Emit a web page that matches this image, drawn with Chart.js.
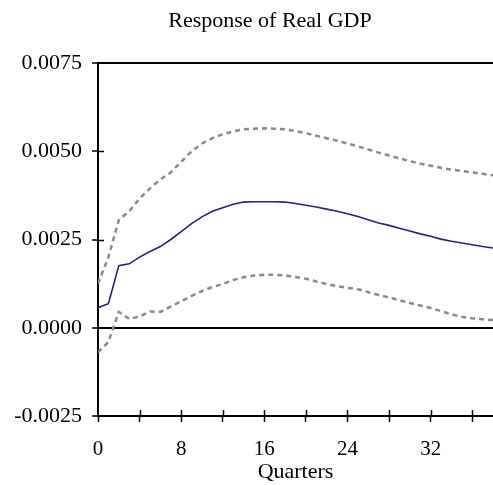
<!DOCTYPE html>
<html>
<head>
<meta charset="utf-8">
<script src="https://cdn.jsdelivr.net/npm/chart.js@4/dist/chart.umd.min.js"></script>
<style>
  html, body { margin: 0; padding: 0; background: #fff; }
  #wrap { width: 493px; height: 485px; position: relative; }
</style>
</head>
<body>
<div id="wrap"><canvas id="c" width="493" height="485"></canvas></div>
<script>
// Impulse response of real GDP with its error bands, by quarter
const quarters = [0,1,2,3,4,5,6,7,8,9,10,11,12,13,14,15,16,17,18,19,20,21,22,23,24,25,26,27,28,29,30,31,32,33,34,35,36,37,38];

const response = [0.00057,0.00068,0.00176,0.00181,0.00200,0.00216,0.00230,0.00250,0.00272,0.00295,
  0.00314,0.00330,0.00340,0.00350,0.00356,0.00357,0.00357,0.00357,0.00356,0.00352,
  0.00347,0.00342,0.00336,0.00330,0.00323,0.00315,0.00306,0.00297,0.00290,0.00282,
  0.00274,0.00266,0.00259,0.00251,0.00245,0.00240,0.00235,0.00230,0.00226];

const upperBand = [0.00125,0.00200,0.00305,0.00330,0.00366,0.00395,0.00420,0.00440,0.00470,0.00500,
  0.00522,0.00537,0.00548,0.00556,0.00562,0.00564,0.00565,0.00564,0.00562,0.00557,
  0.00551,0.00544,0.00537,0.00530,0.00522,0.00514,0.00505,0.00496,0.00488,0.00480,
  0.00472,0.00465,0.00459,0.00453,0.00448,0.00444,0.00440,0.00436,0.00432];

const lowerBand = [-0.00070,-0.00040,0.00045,0.00025,0.00032,0.00046,0.00045,0.00060,0.00075,0.00090,
  0.00104,0.00115,0.00124,0.00135,0.00143,0.00148,0.00150,0.00150,0.00148,0.00144,
  0.00139,0.00131,0.00124,0.00118,0.00113,0.00109,0.00101,0.00093,0.00086,0.00078,
  0.00070,0.00063,0.00056,0.00047,0.00038,0.00031,0.00027,0.00024,0.00022];

const yTicks = [-0.0025, 0.0000, 0.0025, 0.0050, 0.0075];
const xLabelTicks = [0, 8, 16, 24, 32];
const chartTitle = 'Response of Real GDP';
const xTitle = 'Quarters';

const pts = arr => arr.map((v, i) => ({ x: quarters[i], y: v }));

const serif = '"Liberation Serif", "Times New Roman", serif';

// Tick marks that cross the axes, plus the centred title
const axisDecor = {
  id: 'axisDecor',
  afterDraw(chart) {
    const { ctx, chartArea, scales } = chart;
    const xs = scales.x, ys = scales.y;
    ctx.save();
    ctx.strokeStyle = '#000';
    ctx.lineWidth = 1.5;
    ctx.beginPath();
    [0.0025, 0.0050].forEach(v => {
      const y = Math.round(ys.getPixelForValue(v)) + 0.5;
      ctx.moveTo(chartArea.left, y);
      ctx.lineTo(chartArea.left + 6, y);
    });
    for (let q = 4; q <= 38; q += 4) {
      const x = Math.round(xs.getPixelForValue(q)) + 0.5;
      ctx.moveTo(x, chartArea.bottom);
      ctx.lineTo(x, chartArea.bottom - 6);
    }
    ctx.stroke();
    ctx.fillStyle = '#000';
    ctx.font = '22px ' + serif;
    ctx.textAlign = 'center';
    ctx.textBaseline = 'middle';
    ctx.fillText(chartTitle, 270, 21);
    ctx.restore();
  }
};

new Chart(document.getElementById('c'), {
  type: 'line',
  data: {
    datasets: [
      {
        data: pts(upperBand),
        borderColor: '#8a8a8a',
        borderWidth: 2.5,
        borderDash: [5, 4],
        pointRadius: 0,
        tension: 0,
        fill: false
      },
      {
        data: pts(response),
        borderColor: '#22228c',
        borderWidth: 1.6,
        pointRadius: 0,
        tension: 0,
        fill: false
      },
      {
        data: pts(lowerBand),
        borderColor: '#8a8a8a',
        borderWidth: 2.5,
        borderDash: [5, 4],
        pointRadius: 0,
        tension: 0,
        fill: false
      }
    ]
  },
  options: {
    responsive: false,
    animation: false,
    devicePixelRatio: 1,
    layout: { padding: { top: 63, right: 0, left: 0, bottom: 0 } },
    plugins: {
      legend: { display: false },
      tooltip: { enabled: false },
      title: { display: false }
    },
    scales: {
      x: {
        type: 'linear',
        min: 0,
        max: 38,
        afterFit(scale) { scale.height = 69; },
        afterBuildTicks(scale) {
          const t = [];
          for (let q = 0; q <= 36; q += 4) t.push({ value: q });
          scale.ticks = t;
        },
        ticks: {
          autoSkip: false,
          maxRotation: 0,
          color: '#000',
          font: { family: serif, size: 21 },
          padding: 15,
          callback: v => (xLabelTicks.includes(v) ? String(v) : '')
        },
        grid: {
          drawOnChartArea: false,
          drawTicks: true,
          tickLength: 6,
          tickColor: '#000',
          tickWidth: 1.5
        },
        border: { display: true, color: '#000', width: 2 },
        title: {
          display: true,
          text: xTitle,
          color: '#000',
          font: { family: serif, size: 22 },
          padding: { top: -15, bottom: 0 }
        }
      },
      y: {
        min: -0.0025,
        max: 0.0075,
        afterFit(scale) { scale.width = 98; },
        afterBuildTicks(scale) {
          scale.ticks = yTicks.map(v => ({ value: v }));
        },
        ticks: {
          color: '#000',
          font: { family: serif, size: 22 },
          padding: 10,
          callback: v => v.toFixed(4)
        },
        grid: {
          drawOnChartArea: true,
          tickLength: 6,
          tickColor: '#000',
          tickWidth: 1.5,
          lineWidth: 2,
          color: ctx => (ctx.tick && (Math.abs(ctx.tick.value) < 1e-9 || Math.abs(ctx.tick.value - 0.0075) < 1e-9)) ? '#000' : 'rgba(0,0,0,0)'
        },
        border: { display: true, color: '#000', width: 2 }
      }
    }
  },
  plugins: [axisDecor]
});
</script>
</body>
</html>
